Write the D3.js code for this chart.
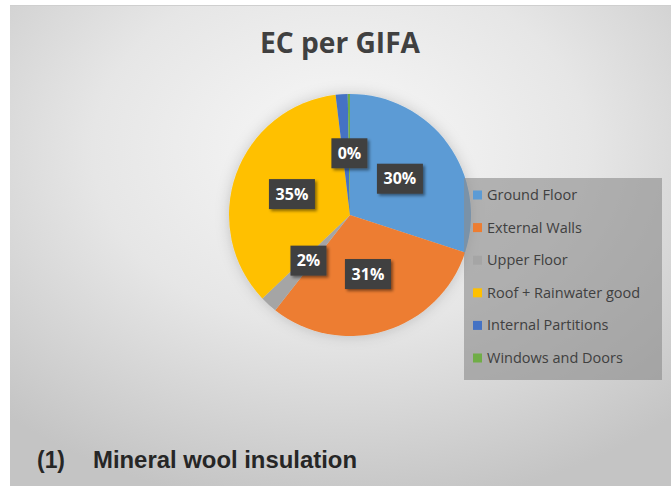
<!DOCTYPE html>
<html><head><meta charset="utf-8">
<script src="https://cdn.jsdelivr.net/npm/d3@7/dist/d3.min.js"></script>
<style>body{margin:0;background:#fff;}svg{display:block;}</style>
</head><body>
<svg id="chart" width="671" height="486"></svg>
<script>
const categories = ["Ground Floor","External Walls","Upper Floor","Roof + Rainwater good","Internal Partitions","Windows and Doors"];
const values = [30.0, 30.6, 2.3, 35.2, 1.6, 0.3];
const colors = ["#5B9BD5","#ED7D31","#A5A5A5","#FFC000","#4472C4","#70AD47"];
const hiddenLabels = ["Internal Partitions"];
const title = "EC per GIFA";
const caption = "(1)";
const captionText = "Mineral wool insulation";

const svg = d3.select("#chart");
const defs = svg.append("defs");
const bg = defs.append("radialGradient").attr("id","bg").attr("cx","0.5").attr("cy","0.3").attr("r","0.75");
bg.append("stop").attr("offset","0").attr("stop-color","#f8f8f8");
bg.append("stop").attr("offset","0.5").attr("stop-color","#e6e6e6");
bg.append("stop").attr("offset","1").attr("stop-color","#c4c4c4");
const glow = defs.append("filter").attr("id","glow").attr("x","-30%").attr("y","-30%").attr("width","160%").attr("height","160%");
glow.append("feGaussianBlur").attr("in","SourceAlpha").attr("stdDeviation","7").attr("result","b");
glow.append("feFlood").attr("flood-color","#000").attr("flood-opacity","0.18");
glow.append("feComposite").attr("in2","b").attr("operator","in").attr("result","s");
const m1 = glow.append("feMerge"); m1.append("feMergeNode").attr("in","s"); m1.append("feMergeNode").attr("in","SourceGraphic");
const sh = defs.append("filter").attr("id","sh").attr("x","-30%").attr("y","-30%").attr("width","160%").attr("height","160%");
sh.append("feGaussianBlur").attr("in","SourceAlpha").attr("stdDeviation","1.5").attr("result","b");
sh.append("feOffset").attr("dx","2").attr("dy","2").attr("result","o");
sh.append("feFlood").attr("flood-color","#000").attr("flood-opacity","0.45");
sh.append("feComposite").attr("in2","o").attr("operator","in").attr("result","s");
const m2 = sh.append("feMerge"); m2.append("feMergeNode").attr("in","s"); m2.append("feMergeNode").attr("in","SourceGraphic");

// frame
svg.append("rect").attr("x",10).attr("y",5).attr("width",661).attr("height",481).attr("fill","url(#bg)");
svg.append("line").attr("x1",10).attr("x2",671).attr("y1",5.5).attr("y2",5.5).attr("stroke","#cfcfcf");

svg.append("text").attr("x",340).attr("y",53).attr("text-anchor","middle")
  .attr("font-family","Open Sans, sans-serif").attr("font-weight","bold").attr("font-size",28)
  .attr("textLength",160).attr("lengthAdjust","spacingAndGlyphs")
  .attr("fill","#404040").text(title);

const cx = 350, cy = 215, R = 121;
const pie = d3.pie().sort(null).value(d => d.v);
const data = pie(categories.map((c,i)=>({name:c, v:values[i], color:colors[i]})));
const arc = d3.arc().innerRadius(0).outerRadius(R);
const g = svg.append("g").attr("transform",`translate(${cx},${cy})`);
g.append("g").attr("filter","url(#glow)").selectAll("path").data(data).join("path")
  .attr("d",arc).attr("fill",d=>d.data.color);

const total = d3.sum(values);
const labArc = d3.arc().innerRadius(R*0.51).outerRadius(R*0.51);
const labs = g.selectAll("g.lab").data(data.filter(d=>!hiddenLabels.includes(d.data.name))).join("g")
  .attr("class","lab").attr("transform",d=>`translate(${labArc.centroid(d)})`);
labs.each(function(d){
  const t = Math.round(d.data.v/total*100)+"%";
  const w = t.length*10 + 16;
  const s = d3.select(this);
  s.append("rect").attr("x",-w/2).attr("y",-15).attr("width",w).attr("height",30).attr("fill","#404040").attr("filter","url(#sh)");
  s.append("text").attr("text-anchor","middle").attr("dy","0.36em").attr("fill","#fff")
   .attr("font-family","Open Sans, sans-serif").attr("font-weight","bold").attr("font-size",16).text(t);
});

// legend
const lg = svg.append("g");
lg.append("rect").attr("x",464).attr("y",178).attr("width",198).attr("height",202).attr("fill","#8c8c8c").attr("opacity",0.62);
const ly = d3.scalePoint().domain(categories).range([195,358]);
const items = lg.selectAll("g.it").data(categories).join("g").attr("class","it")
  .attr("transform",d=>`translate(473,${ly(d)})`);
items.append("rect").attr("x",0).attr("y",-4.5).attr("width",9).attr("height",9).attr("fill",(d,i)=>colors[i]);
items.append("text").attr("x",14).attr("dy","0.35em").attr("font-family","Open Sans, sans-serif")
  .attr("font-size",14.5).attr("fill","#404040").text(d=>d);

// caption
const cap = svg.append("g").attr("font-family","Liberation Sans, Arial, sans-serif")
  .attr("font-weight","bold").attr("font-size",24).attr("fill","#262626");
cap.append("text").attr("x",37).attr("y",468).attr("textLength",28).attr("lengthAdjust","spacingAndGlyphs").text(caption);
cap.append("text").attr("x",93).attr("y",468).attr("textLength",264).attr("lengthAdjust","spacingAndGlyphs").text(captionText);
</script>
</body></html>
